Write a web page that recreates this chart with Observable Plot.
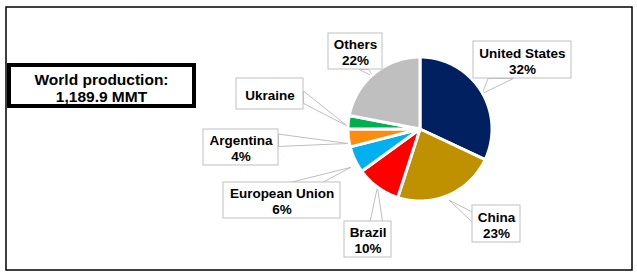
<!DOCTYPE html>
<html>
<head>
<meta charset="utf-8">
<script src="https://cdn.jsdelivr.net/npm/d3@7"></script>
<script src="https://cdn.jsdelivr.net/npm/@observablehq/plot@0.6"></script>
<style>
  html, body { margin: 0; padding: 0; background: #fff; }
  #chart svg { display: block; }
</style>
</head>
<body>
<div id="chart"></div>
<script>
// ---- Data ----
const countries = ["United States", "China", "Brazil", "European Union", "Argentina", "Ukraine", "Others"];
const shares = [32, 23, 10, 6, 4, 3, 22];
const showPct = [true, true, true, true, true, false, true];
const sliceColors = ["#002060", "#BF9000", "#FF0000", "#00B0F0", "#FA8C10", "#00B050", "#BFBFBF"];
const worldTitle = "World production:";
const worldValue = "1,189.9 MMT";

// ---- Layout (pixel space) ----
const W = 637, H = 279;
const pie = {cx: 419.5, cy: 128.5, r: 72};
// label boxes [x1, y1, x2, y2]
const boxes = [
  [473, 41, 571, 78],   // United States
  [472, 205, 520, 242], // China
  [344, 221, 391, 257], // Brazil
  [223, 182, 340, 218], // European Union
  [203, 129, 278, 165], // Argentina
  [236, 78, 303, 109],  // Ukraine
  [328, 33, 382, 69]    // Others
];
// leader wedges: base point A, base point B, apex
const wedges = [
  [[488, 78], [513, 78], [482, 93]],
  [[472, 212], [472, 222], [449, 200]],
  [[370, 221], [382, 221], [377, 187]],
  [[290, 182], [322, 182], [350, 167]],
  [[278, 134], [278, 146], [347, 143]],
  [[303, 91], [303, 103], [346, 125]],
  [[359, 69], [368, 69], [373, 76]]
];

// ---- Build slice polygons from shares ----
const total = d3.sum(shares);
const slicePts = [];
let acc = 0;
shares.forEach((s, i) => {
  const a0 = acc / total * 2 * Math.PI;
  acc += s;
  const a1 = acc / total * 2 * Math.PI;
  slicePts.push({k: i, x: pie.cx, y: pie.cy});
  const n = Math.max(4, Math.ceil((a1 - a0) / (Math.PI / 180)));
  for (let j = 0; j <= n; j++) {
    const a = a0 + (a1 - a0) * j / n;
    slicePts.push({k: i, x: pie.cx + pie.r * Math.sin(a), y: pie.cy - pie.r * Math.cos(a)});
  }
});

const wedgePts = [];
wedges.forEach((w, i) => w.forEach(p => wedgePts.push({k: i, x: p[0], y: p[1]})));

const boxData = countries.map((c, i) => ({
  x1: boxes[i][0], y1: boxes[i][1], x2: boxes[i][2], y2: boxes[i][3],
  text: showPct[i] ? `${c}\n${shares[i]}%` : c
}));

const font = "'Liberation Sans', Arial, sans-serif";

const chart = Plot.plot({
  width: W, height: H,
  margin: 0,
  x: {domain: [0, W], range: [0, W], axis: null},
  y: {domain: [0, H], range: [0, H], axis: null},
  style: {background: "#fff"},
  marks: [
    // outer frame
    Plot.rect([{x1: 6, x2: 632, y1: 7, y2: 270}], {x1: "x1", x2: "x2", y1: "y1", y2: "y2", fill: "none", stroke: "#000", strokeWidth: 1.5}),
    // world production box
    Plot.rect([{x1: 9, x2: 194, y1: 65, y2: 106}], {x1: "x1", x2: "x2", y1: "y1", y2: "y2", fill: "#fff", stroke: "#000", strokeWidth: 4}),
    Plot.text([`${worldTitle}\n${worldValue}`], {x: 101, y: 87.5, text: d => d, fontSize: 15.5, fontWeight: "bold", fontFamily: font, fill: "#000", lineHeight: 1.1, textAnchor: "middle"}),
    // leader wedges
    Plot.line(wedgePts, {x: "x", y: "y", z: "k", curve: "linear-closed", fill: "#fff", stroke: "#BFBFBF", strokeWidth: 1}),
    // slices
    Plot.line(slicePts, {x: "x", y: "y", z: "k", curve: "linear-closed", fill: d => sliceColors[d.k], stroke: "#fff", strokeWidth: 3, strokeLinejoin: "round"}),
    // label boxes
    Plot.rect(boxData, {x1: "x1", x2: "x2", y1: "y1", y2: "y2", fill: "#fff", stroke: "#BFBFBF", strokeWidth: 1}),
    Plot.text(boxData, {x: d => (d.x1 + d.x2) / 2, y: d => (d.y1 + d.y2) / 2 + 0.5, text: "text", fontSize: 13.5, fontWeight: "bold", fontFamily: font, fill: "#000", lineHeight: 1.18, textAnchor: "middle"})
  ]
});
document.getElementById("chart").appendChild(chart);
</script>
</body>
</html>
